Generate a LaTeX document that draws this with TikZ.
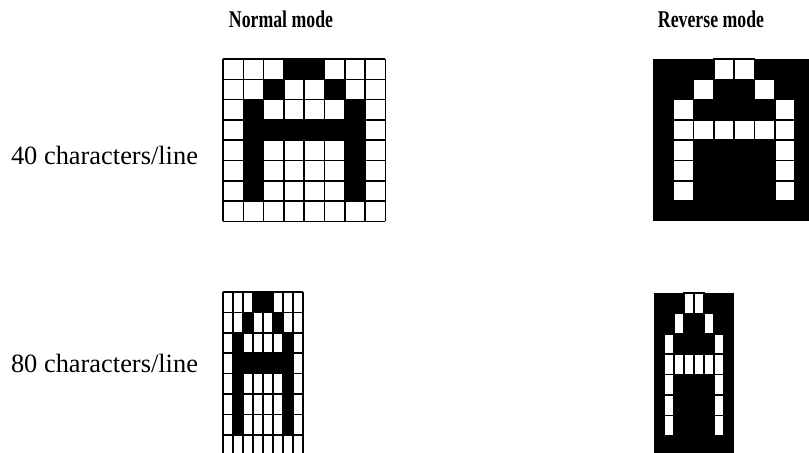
\documentclass[tikz,border=0pt]{standalone}
\usepackage{fontspec}
\setmainfont{Liberation Serif}
\usetikzlibrary{positioning}

\begin{document}
\begin{tikzpicture}[x=0.5pt,y=-0.5pt,
  heading/.style={font=\fontsize{12}{14}\selectfont\bfseries,xscale=0.74,transform shape},
  rowlabel/.style={font=\fontsize{13.2}{15}\selectfont},
  gridline/.style={line width=0.8pt}]
\useasboundingbox (0,0) rectangle (809,452);
\clip (0,0) rectangle (809,452);
% lit dots of the letter A, column/row
\def\glyphA{3/0,4/0,2/1,5/1,1/2,6/2,1/3,2/3,3/3,4/3,5/3,6/3,1/4,6/4,1/5,6/5,1/6,6/6}

\node[heading] (normal) at (281,19) {Normal mode};
\node[heading] (reverse) at (711,19) {Reverse mode};
\node[rowlabel] (forty) at (104.5,155) {40 characters/line};
\node[rowlabel] (eighty) at (104.5,363) {80 characters/line};

% 40 characters/line, normal
\begin{scope}[shift={(223,59)},xscale=20.3,yscale=20.3]
  \foreach \c/\r in \glyphA \fill (\c,\r) rectangle ++(1,1);
  \foreach \i in {0,...,8} {\draw[gridline] (\i,0) -- (\i,8); \draw[gridline] (0,\i) -- (8,\i);}
\end{scope}
% 40 characters/line, reverse
\begin{scope}[shift={(653,59)},xscale=20.3,yscale=20.3]
  \fill (0,0) rectangle (8,8);
  \foreach \c/\r in \glyphA \filldraw[fill=white,gridline] (\c,\r) rectangle ++(1,1);
\end{scope}
% 80 characters/line, normal
\begin{scope}[shift={(223,292)},xscale=10,yscale=20.4]
  \foreach \c/\r in \glyphA \fill (\c,\r) rectangle ++(1,1);
  \foreach \i in {0,...,8} {\draw[gridline] (\i,0) -- (\i,8); \draw[gridline] (0,\i) -- (8,\i);}
\end{scope}
% 80 characters/line, reverse
\begin{scope}[shift={(654,293)},xscale=10,yscale=20.4]
  \fill (0,0) rectangle (8,8);
  \foreach \c/\r in \glyphA \filldraw[fill=white,gridline] (\c,\r) rectangle ++(1,1);
\end{scope}
\end{tikzpicture}
\end{document}
